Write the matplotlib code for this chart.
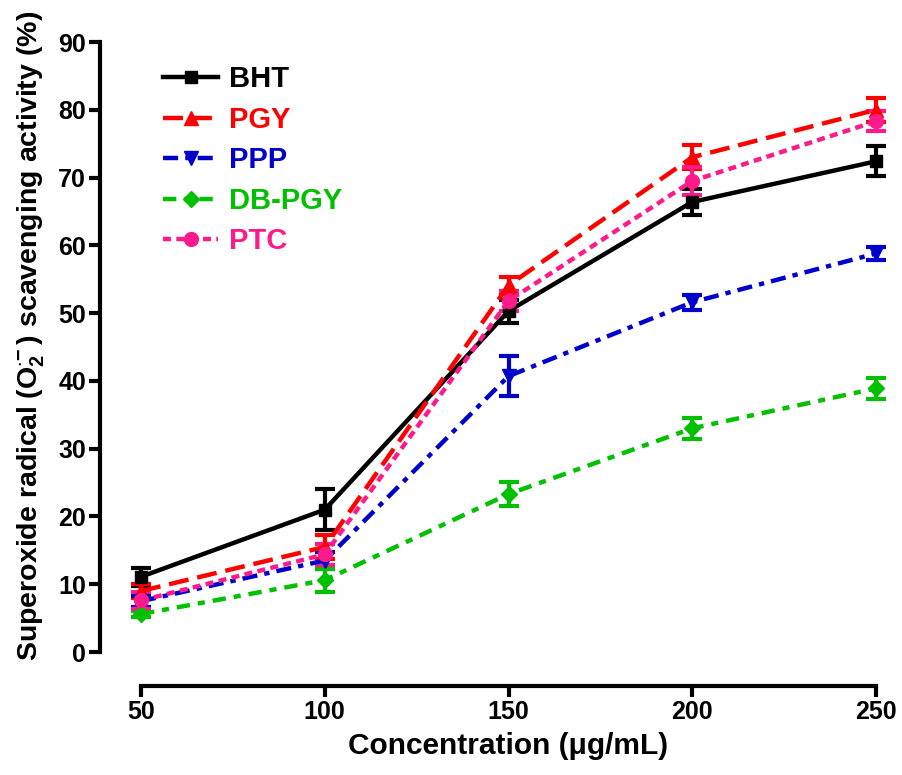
import matplotlib
matplotlib.use('Agg')
import matplotlib.pyplot as plt
from matplotlib.lines import Line2D
import numpy as np

plt.rcParams['font.family'] = ['Liberation Sans', 'DejaVu Sans']
plt.rcParams['font.weight'] = 'bold'
plt.rcParams['mathtext.fontset'] = 'custom'
plt.rcParams['mathtext.rm'] = 'Liberation Sans:bold'
plt.rcParams['mathtext.bf'] = 'Liberation Sans:bold'
plt.rcParams['mathtext.it'] = 'Liberation Sans:bold'

conc = [50, 100, 150, 200, 250]
names = ['BHT', 'PGY', 'PPP', 'DB-PGY', 'PTC']

bht = [11.1, 21.0, 50.3, 66.4, 72.4]
bht_err = [1.3, 3.0, 1.7, 1.9, 2.2]
pgy = [9.0, 15.5, 54.1, 73.0, 80.0]
pgy_err = [1.0, 1.8, 1.3, 1.8, 1.8]
ppp = [7.5, 13.5, 40.7, 51.6, 58.8]
ppp_err = [0.8, 1.2, 3.0, 1.1, 1.0]
dbpgy = [5.6, 10.6, 23.3, 33.0, 38.9]
dbpgy_err = [0.5, 1.7, 1.8, 1.5, 1.5]
ptc = [7.6, 14.4, 51.8, 69.5, 78.3]
ptc_err = [1.2, 1.5, 1.5, 2.0, 1.5]

series = [bht, pgy, ppp, dbpgy, ptc]
errors = [bht_err, pgy_err, ppp_err, dbpgy_err, ptc_err]
colors = ['#000000', '#ff0000', '#0000cc', '#00c000', '#ff1a8c']
markers = ['s', '^', 'v', 'D', 'o']
msizes = [9, 10, 10, 8, 10]
dashes = [None, (4.5, 2.0), (3.4, 1.6, 1.2, 1.6), (3.0, 1.8, 1.6, 1.8), (1.8, 1.2)]

fig = plt.figure(figsize=(9.02, 7.75), dpi=100)
ax = fig.add_axes([0.1563, 0.1587, 0.8149, 0.7871])

handles = []
for y, e, c, m, ms, d, n in zip(series, errors, colors, markers, msizes, dashes, names):
    eb = ax.errorbar(conc, y, yerr=e, color=c, marker=m, markersize=ms, lw=3.2,
                     elinewidth=3, capsize=7.5, capthick=3, clip_on=False)
    line = eb[0]
    h = Line2D([], [], color=c, marker=m, markersize=ms, lw=3.2)
    if d is not None:
        line.set_dashes(d)
        h.set_dashes(d)
    for art in list(eb[1]) + list(eb[2]):
        art.set_clip_on(False)
    handles.append(h)

ax.set_xlim(50, 250)
ax.set_ylim(0, 90)
ax.set_xticks(conc)
ax.set_yticks(np.arange(0, 91, 10))

for s in ['top', 'right']:
    ax.spines[s].set_visible(False)
ax.spines['left'].set_position(('outward', 29.5))
ax.spines['bottom'].set_position(('outward', 24.5))
ax.spines['left'].set_linewidth(3)
ax.spines['bottom'].set_linewidth(3)
ax.tick_params(width=3, length=8, labelsize=18, pad=2)
for lab in ax.get_xticklabels() + ax.get_yticklabels():
    lab.set_fontweight('bold')

ax.set_xlabel('Concentration (\u03bcg/mL)', fontsize=21.5, fontweight='bold', labelpad=6)
ax.set_ylabel(r'Superoxide radical (O$_2^{\cdot\!-}$) scavenging activity (%)',
              fontsize=20.5, fontweight='bold')
ax.yaxis.set_label_coords(-0.128, 0.518)

leg = ax.legend(handles, names, loc='upper left', bbox_to_anchor=(0.03, 0.962),
                frameon=False, fontsize=21, handlelength=1.9, labelspacing=0.43,
                handletextpad=0.35, borderaxespad=0, borderpad=0)
for t, c in zip(leg.get_texts(), colors):
    t.set_color(c)
    t.set_fontweight('bold')

fig.savefig('out.png', dpi=100)
